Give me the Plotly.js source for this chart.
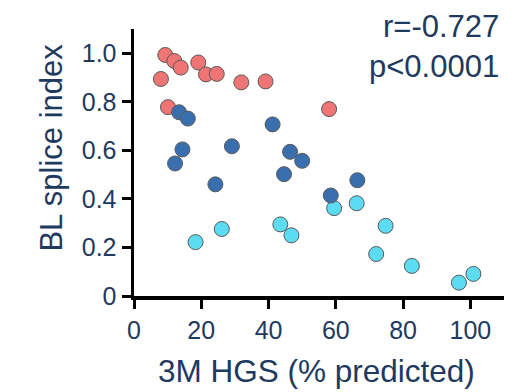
<!DOCTYPE html>
<html>
<head>
<meta charset="utf-8">
<script src="https://cdn.plot.ly/plotly-3.0.1.min.js"></script>
<style>
  html, body { margin: 0; padding: 0; background: #ffffff; }
  #chart { width: 531px; height: 392px; }
</style>
</head>
<body>
<div id="chart"></div>
<script>
// Grip strength at 3 months vs baseline splice index, three patient groups
const redX  = [9.3, 12.0, 13.9, 8.0, 19.1, 21.4, 24.6, 31.9, 39.1, 10.1, 58.0];
const redY  = [0.993, 0.968, 0.941, 0.894, 0.962, 0.913, 0.915, 0.880, 0.884, 0.778, 0.770];

const blueX = [13.4, 16.0, 41.2, 14.4, 29.1, 46.4, 50.0, 12.2, 44.6, 24.2, 58.5, 66.4];
const blueY = [0.757, 0.731, 0.707, 0.604, 0.617, 0.594, 0.557, 0.546, 0.502, 0.460, 0.414, 0.477];

const cyanX = [18.3, 26.1, 43.5, 46.8, 59.5, 66.2, 72.0, 74.8, 82.6, 96.6, 100.9];
const cyanY = [0.222, 0.276, 0.295, 0.250, 0.362, 0.382, 0.173, 0.289, 0.124, 0.055, 0.091];

const xTicks = [0, 20, 40, 60, 80, 100];
const yTicks = [0, 0.2, 0.4, 0.6, 0.8, 1.0];
const yTickText = ['0', '0.2', '0.4', '0.6', '0.8', '1.0'];

const xTitle = '3M HGS (% predicted)';
const yTitle = 'BL splice index';
const statLines = ['r=-0.727', 'p<0.0001'];

const textColor = '#1e3a5f';
const fontFamily = 'Liberation Sans, Arial, sans-serif';

function dots(x, y, color) {
  return {
    x: x, y: y, type: 'scatter', mode: 'markers', hoverinfo: 'skip',
    marker: { size: 15, color: color, line: { color: '#5a5a5a', width: 1 } }
  };
}

const data = [
  dots(redX, redY, '#ef7474'),
  dots(cyanX, cyanY, '#5cdcf3'),
  dots(blueX, blueY, '#3a6faf')
];

const axisCommon = {
  showline: true, linecolor: '#000000', linewidth: 3.5,
  ticks: 'outside', ticklen: 9, tickwidth: 3, tickcolor: '#000000',
  showgrid: false, zeroline: false, fixedrange: true,
  tickfont: { family: fontFamily, size: 25, color: textColor }
};

function label(text, x, y, size, extra) {
  return Object.assign({
    xref: 'paper', yref: 'paper', x: x, y: y,
    xanchor: 'center', yanchor: 'middle', showarrow: false,
    text: text, font: { family: fontFamily, size: size, color: textColor }
  }, extra || {});
}

const layout = {
  width: 531, height: 392,
  margin: { l: 134, r: 27, t: 29, b: 96 },
  paper_bgcolor: '#ffffff', plot_bgcolor: '#ffffff',
  showlegend: false,
  xaxis: Object.assign({}, axisCommon, { range: [0, 110], tickvals: xTicks }),
  yaxis: Object.assign({}, axisCommon, { range: [0, 1.1], tickvals: yTicks, ticktext: yTickText }),
  annotations: [
    label(xTitle, 0.493, -0.281, 31.5),
    label(yTitle, -0.2216, 0.556, 31, { textangle: -90 }),
    label(statLines[0], 0.993, 1.0094, 31, { xanchor: 'right' }),
    label(statLines[1], 0.993, 0.8614, 31, { xanchor: 'right' })
  ]
};

Plotly.newPlot('chart', data, layout, { staticPlot: true, displayModeBar: false });
</script>
</body>
</html>
